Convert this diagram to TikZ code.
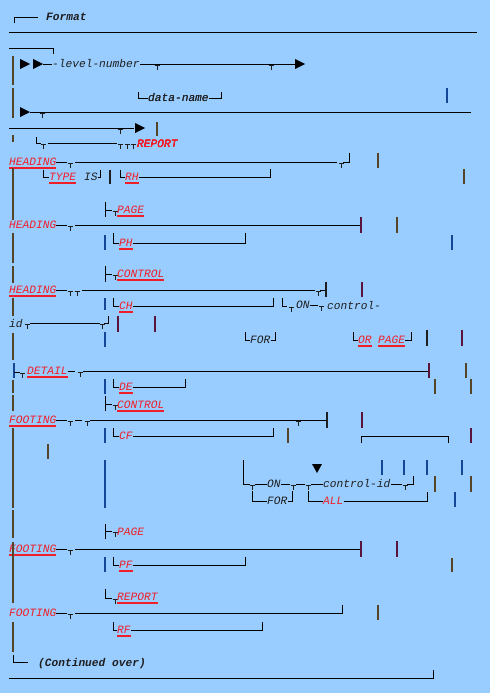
\documentclass[tikz,border=0pt]{standalone}
\usepackage{fontspec}
\setmonofont{Liberation Mono}
\usetikzlibrary{positioning}
\definecolor{bgblue}{RGB}{153,204,255}
\definecolor{kwred}{RGB}{240,30,40}
\definecolor{barbrown}{RGB}{85,68,40}
\definecolor{barblue}{RGB}{20,70,150}
\definecolor{barpurple}{RGB}{90,20,60}
\definecolor{inkgray}{RGB}{30,30,30}
\tikzset{
rail/.style={line width=0.9pt, black},
bar/.style={line width=1.4pt, barbrown},
teeline/.style={line width=0.9pt, inkgray},
lbl/.style={inner sep=0pt, anchor=west, text height=7pt, text depth=0pt, font=\fontsize{11.2}{13}\ttfamily\itshape},
txt/.style={lbl, text=inkgray},
kw/.style={lbl, text=kwred},
kwu/.style={kw, append after command={([yshift=-2.5pt]\tikzlastnode.south west) edge[draw=kwred, line width=1.5pt] ([yshift=-2.5pt]\tikzlastnode.south east)}},
headtxt/.style={txt, font=\fontsize{11.2}{13}\ttfamily\bfseries\itshape},
}
\newcommand\teemark[2]{\draw[teeline] (#1-2.5,#2+1) -- (#1+2.5,#2+1) (#1,#2+1) -- (#1,#2+6);}
\newcommand\rarrow[2]{\fill (#1,#2-5) -- (#1+10,#2) -- (#1,#2+5) -- cycle;}
\begin{document}
\begin{tikzpicture}[x=1pt,y=-1pt]
\fill[bgblue] (0,0) rectangle (490,693);
\useasboundingbox (0,0) rectangle (490,693);

\node[headtxt] (fmt) at (46,17) {Format};
\draw[rail] (14,23) -- (14,17) -- (38,17);
\draw[rail] (9,32) -- (477,32);

\draw[rail] (9,48) -- (53,48) -- (53,54);
\rarrow{20}{64}
\rarrow{33}{64}
\node[txt] (lvl) at (52,64) {-level-number};
\draw[rail] (43,64) -- (lvl.west);
\draw[rail] (lvl.east) -- (295,64);
\rarrow{295}{64}
\foreach \x in {157,271} \teemark{\x}{64}
\node[txt] (dn) at (148,98) {data-name};
\draw[rail] (138,92) -- (138,98) -- (dn.west);
\draw[rail] (dn.east) -- (221,98) -- (221,92);
\draw[bar, barblue] (447,88) -- (447,103);
\rarrow{20}{112}
\draw[rail] (30,112) -- (471,112);
\teemark{42}{112}

\draw[rail] (9,128) -- (134,128);
\teemark{120}{128}
\rarrow{135}{128}
\draw[bar] (157,122) -- (157,136);
\draw[rail] (36,137) -- (36,143) -- (41,143);
\draw[rail] (48,143) -- (117,143);
\foreach \x in {43,120,127,133} \teemark{\x}{143}
\node[kw] (rep1) at (137,144) {REPORT};

\node[kwu] (hd1) at (9,162) {HEADING};
\draw[rail] (hd1.east) -- (67,162);
\draw[rail] (75,162) -- (337,162);
\foreach \x in {70,341} \teemark{\x}{162}
\draw[rail] (343,162) -- (349,162) -- (349,153);
\draw[bar] (378,153) -- (378,168);
\node[kwu] (typ) at (49,177) {TYPE};
\node[txt] (is) at (84,177) {IS};
\draw[rail] (43,170) -- (43,177) -- (typ.west);
\draw[rail] (is.east) -- (100,177) -- (100,170);
\draw[bar, inkgray] (110,170) -- (110,184);
\node[kwu] (rh) at (125,177) {RH};
\draw[rail] (120,170) -- (120,177) -- (rh.west);
\draw[rail] (rh.east) -- (270,177) -- (270,169);
\draw[bar] (464,169) -- (464,184);

\draw[rail] (105,202) -- (105,217) (105,210) -- (112,210);
\teemark{115}{210}
\node[kwu] (pg1) at (117,210) {PAGE};
\node[kw] (hd2) at (9,225) {HEADING};
\draw[rail] (hd2.east) -- (67,225);
\draw[rail] (75,225) -- (361,225);
\teemark{70}{225}
\draw[bar, barpurple] (361,217) -- (361,233);
\draw[bar, barbrown] (397,217) -- (397,233);
\draw[bar, barblue] (105,235) -- (105,250);
\draw[bar, barblue] (452,235) -- (452,250);
\node[kwu] (ph) at (119,243) {PH};
\draw[rail] (113,233) -- (113,243) -- (ph.west);
\draw[rail] (ph.east) -- (245,243) -- (245,233);

\draw[rail] (105,266) -- (105,282) (105,274) -- (112,274);
\teemark{115}{274}
\node[kwu] (ctl1) at (117,274) {CONTROL};
\node[kwu] (hd3) at (9,290) {HEADING};
\draw[rail] (hd3.east) -- (67,290);
\draw[rail] (82,290) -- (315,290);
\foreach \x in {70,77,318} \teemark{\x}{290}
\draw[rail] (320,290) -- (326,290);
\draw[bar, inkgray] (326,282) -- (326,297);
\draw[bar, barpurple] (362,282) -- (362,297);
\draw[bar, barblue] (105,298) -- (105,310);
\node[kwu] (ch) at (119,306) {CH};
\draw[rail] (113,298) -- (113,306) -- (ch.west);
\draw[rail] (ch.east) -- (273,306) -- (273,298);
\node[txt] (on1) at (296,305) {ON};
\draw[rail] (282,298) -- (282,306) -- (287,306);
\teemark{291}{306}
\draw[rail] (on1.east) -- (318,305);
\teemark{321}{305}
\node[txt] (cid1) at (327,306) {control-};
\node[txt] (id) at (9,324) {id};
\teemark{27}{323}
\draw[rail] (30,323) -- (100,323);
\teemark{102}{323}
\draw[rail] (104,323) -- (108,323) -- (108,316);
\foreach \x in {118,155} \draw[bar, barpurple] (\x,316) -- (\x,332);
\draw[bar, barblue] (105,332) -- (105,347);
\node[txt] (for1) at (250,340) {FOR};
\draw[rail] (245,332) -- (245,340) -- (for1.west);
\draw[rail] (for1.east) -- (275,340) -- (275,332);
\node[kwu] (or) at (358,340) {OR};
\node[kwu] (pg2) at (378,340) {PAGE};
\draw[rail] (353,332) -- (353,340) -- (or.west);
\draw[rail] (pg2.east) -- (411,340) -- (411,332);
\draw[bar, inkgray] (427,330) -- (427,346);
\draw[bar, barpurple] (462,330) -- (462,346);

\draw[bar, barblue] (14,363) -- (14,378);
\draw[rail] (14,372) -- (20,372);
\teemark{22}{372}
\node[kwu] (det) at (27,371) {DETAIL};
\draw[rail] (det.east) -- (75,371);
\draw[rail] (83,371) -- (429,371);
\teemark{80}{371}
\draw[bar, barpurple] (429,363) -- (429,378);
\draw[bar] (466,363) -- (466,378);
\draw[bar] (435,379) -- (435,394);
\draw[bar] (471,379) -- (471,394);
\draw[bar, barblue] (105,379) -- (105,394);
\node[kwu] (de) at (119,387) {DE};
\draw[rail] (113,379) -- (113,387) -- (de.west);
\draw[rail] (de.east) -- (185,387) -- (185,379);
\draw[rail] (105,396) -- (105,411) (105,404) -- (112,404);
\teemark{115}{404}
\node[kwu] (ctl2) at (117,405) {CONTROL};

\node[kwu] (ft1) at (9,420) {FOOTING};
\draw[rail] (ft1.east) -- (67,420);
\draw[rail] (75,420) -- (82,420);
\draw[rail] (90,420) -- (327,420);
\foreach \x in {70,87,298} \teemark{\x}{420}
\draw[bar, inkgray] (327,412) -- (327,428);
\draw[bar, barpurple] (362,412) -- (362,428);
\draw[bar, barblue] (105,428) -- (105,443);
\node[kw] (cf) at (119,436) {CF};
\draw[rail] (113,428) -- (113,436) -- (cf.west);
\draw[rail] (cf.east) -- (273,436) -- (273,428);
\draw[bar] (288,428) -- (288,443);
\draw[rail] (361,443) -- (361,436) -- (448,436) -- (448,443);
\draw[bar, barpurple] (471,428) -- (471,443);
\draw[bar] (48,444) -- (48,459);
\draw[bar, barblue] (105,460) -- (105,508);
\foreach \x in {382,404,427,462} \draw[bar, barblue] (\x,460) -- (\x,475);
\fill (312,464) -- (322,464) -- (317,473) -- cycle;
\draw[rail] (243,460) -- (243,484) -- (250,484);
\node[txt] (on2) at (267,484) {ON};
\draw[rail] (255,484) -- (on2.west);
\draw[rail] (on2.east) -- (290,484);
\draw[rail] (296,484) -- (305,484);
\node[txt] (cid2) at (323,484) {control-id};
\draw[rail] (311,484) -- (cid2.west);
\draw[rail] (cid2.east) -- (402,484);
\foreach \x in {252,293,308,405} \teemark{\x}{484}
\draw[rail] (407,484) -- (413,484) -- (413,476);
\node[txt] (for2) at (267,501) {FOR};
\draw[rail] (252,491) -- (252,501) -- (for2.west);
\draw[rail] (for2.east) -- (292,501) -- (292,491);
\node[kw] (all) at (323,501) {ALL};
\draw[rail] (308,491) -- (308,501) -- (all.west);
\draw[rail] (all.east) -- (427,501) -- (427,492);
\draw[bar] (435,476) -- (435,492);
\draw[bar] (471,476) -- (471,492);
\draw[bar, barblue] (455,492) -- (455,507);

\draw[rail] (105,524) -- (105,539) (105,531) -- (112,531);
\teemark{115}{531}
\node[kw] (pg3) at (117,532) {PAGE};
\node[kwu] (ft2) at (9,549) {FOOTING};
\draw[rail] (ft2.east) -- (67,549);
\draw[rail] (75,549) -- (361,549);
\teemark{70}{549}
\draw[bar, barpurple] (361,541) -- (361,557);
\draw[bar, barpurple] (397,541) -- (397,557);
\draw[bar, barblue] (105,557) -- (105,572);
\node[kwu] (pf) at (119,565) {PF};
\draw[rail] (113,557) -- (113,565) -- (pf.west);
\draw[rail] (pf.east) -- (245,565) -- (245,557);
\draw[bar] (452,558) -- (452,572);
\draw[rail] (105,589) -- (105,598) -- (112,598);
\teemark{115}{598}
\node[kwu] (rep2) at (117,597) {REPORT};
\node[kw] (ft3) at (9,613) {FOOTING};
\draw[rail] (ft3.east) -- (67,613);
\draw[rail] (75,613) -- (342,613) -- (342,605);
\teemark{70}{613}
\draw[bar] (378,605) -- (378,620);
\node[kwu] (rf) at (117,630) {RF};
\draw[rail] (113,622) -- (113,630) -- (rf.west);
\draw[rail] (rf.east) -- (262,630) -- (262,622);

\foreach \a/\b in {56/85,88/118,135/142,168/220,233/263,266/283,298/316,333/360,380/393,395/411,428/508,510/538,542/603,622/652}
  \draw[bar] (13,\a) -- (13,\b);
\draw[rail] (13,655) -- (13,662) -- (28,662);
\node[headtxt] (cont) at (38,663) {(Continued over)};
\draw[rail] (9,678) -- (433,678) -- (433,670);
\end{tikzpicture}
\end{document}
